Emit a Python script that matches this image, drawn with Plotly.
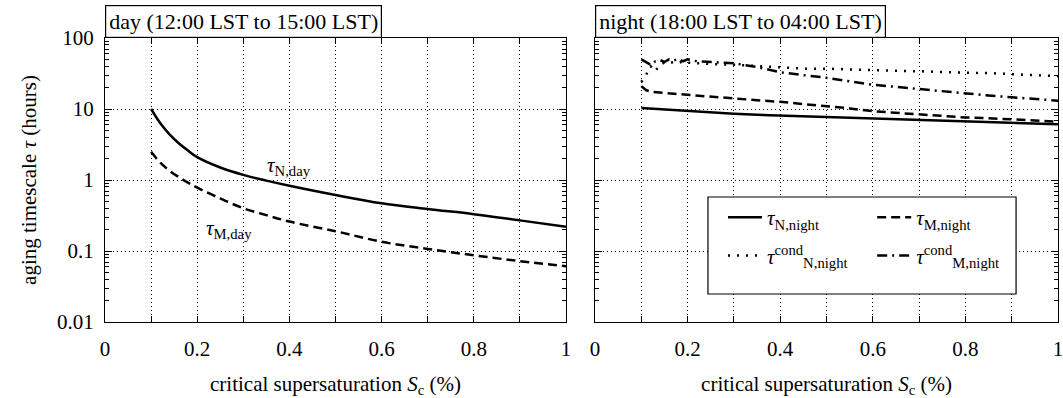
import plotly.graph_objects as go
from plotly.subplots import make_subplots

# ---- data ----
x_day = [0.10, 0.12, 0.14, 0.16, 0.18, 0.20, 0.25, 0.30, 0.35, 0.40, 0.50, 0.60, 0.70, 0.80, 0.90, 1.00]
tau_N_day = [10.0, 6.3, 4.4, 3.3, 2.6, 2.1, 1.5, 1.18, 0.98, 0.83, 0.615, 0.47, 0.39, 0.33, 0.27, 0.22]
tau_M_day = [2.5, 1.75, 1.35, 1.1, 0.92, 0.78, 0.55, 0.40, 0.32, 0.26, 0.19, 0.135, 0.107, 0.087, 0.072, 0.061]

x_night = [0.10, 0.11, 0.12, 0.13, 0.14, 0.15, 0.16, 0.17, 0.18, 0.19, 0.20, 0.22, 0.25, 0.30,
           0.35, 0.40, 0.45, 0.50, 0.55, 0.60, 0.65, 0.70, 0.75, 0.80, 0.85, 0.90, 0.95, 1.00]
tau_N_night = [10.3, 10.2, 10.1, 10.0, 10.0, 9.9, 9.8, 9.7, 9.6, 9.5, 9.4, 9.2, 8.9, 8.6,
               8.3, 8.1, 7.9, 7.7, 7.5, 7.3, 7.1, 7.0, 6.8, 6.6, 6.5, 6.4, 6.25, 6.1]
tau_M_night = [21.0, 18.5, 17.5, 17.2, 17.0, 16.8, 16.6, 16.4, 16.2, 16.0, 15.7, 15.3, 14.8, 14.1,
               13.3, 12.6, 11.8, 11.1, 10.2, 9.3, 8.8, 8.3, 7.9, 7.6, 7.4, 7.2, 6.9, 6.6]
tau_N_cond_night = [24, 30, 40, 34, 42, 45, 44, 46, 44, 47, 45, 44, 43, 42,
                    40, 38, 37, 37, 36, 35, 34.5, 34, 33, 32.5, 32, 31, 30, 29]
tau_M_cond_night = [50, 46, 42, 47, 49, 46, 50, 48, 51, 47, 50, 47, 46, 44,
                    39, 33, 30, 27.5, 24.5, 22, 20.5, 19, 17.8, 16.6, 15.5, 14.6, 13.8, 13.1]

x_tickvals = [0, 0.1, 0.2, 0.3, 0.4, 0.5, 0.6, 0.7, 0.8, 0.9, 1.0]
x_ticktext = ["0", "", "0.2", "", "0.4", "", "0.6", "", "0.8", "", "1"]
y_tickvals = [0.01, 0.1, 1, 10, 100]
y_ticktext = ["0.01", "0.1", "1", "10", "100"]

FONT = "Liberation Serif, DejaVu Serif, serif"
LW = 2.5
FS = 21

fig = make_subplots(rows=1, cols=2, horizontal_spacing=0.03)

fig.add_trace(go.Scatter(x=x_day, y=tau_N_day, mode="lines", line=dict(color="black", width=LW, shape="spline"),
                         showlegend=False), row=1, col=1)
fig.add_trace(go.Scatter(x=x_day, y=tau_M_day, mode="lines", line=dict(color="black", width=LW, dash="9px,5px", shape="spline"),
                         showlegend=False), row=1, col=1)

fig.add_trace(go.Scatter(x=x_night, y=tau_N_night, mode="lines", name="<i>τ</i><sub>N,night</sub>",
                         legend="legend", legendgroup="a",
                         line=dict(color="black", width=LW)), row=1, col=2)
fig.add_trace(go.Scatter(x=x_night, y=tau_M_night, mode="lines", name="<i>τ</i><sub>M,night</sub>",
                         legend="legend2", legendgroup="b",
                         line=dict(color="black", width=LW, dash="9px,5px")), row=1, col=2)
fig.add_trace(go.Scatter(x=x_night, y=tau_N_cond_night, mode="lines", name="<i>τ</i><sup>cond</sup><sub>N,night</sub>",
                         legend="legend", legendgroup="c",
                         line=dict(color="black", width=LW, dash="2px,7px")), row=1, col=2)
fig.add_trace(go.Scatter(x=x_night, y=tau_M_cond_night, mode="lines", name="<i>τ</i><sup>cond</sup><sub>M,night</sub>",
                         legend="legend2", legendgroup="d",
                         line=dict(color="black", width=LW, dash="10px,5px,2px,5px")), row=1, col=2)

axis_common = dict(showline=True, linecolor="black", linewidth=1.2, mirror="ticks",
                   ticks="inside", tickcolor="black", showgrid=True, gridcolor="black",
                   griddash="1px,3px", gridwidth=1, zeroline=False, automargin=False,
                   tickfont=dict(family=FONT, size=FS, color="black"))

for c in (1, 2):
    fig.update_xaxes(range=[0, 1], tickvals=x_tickvals, ticktext=x_ticktext, ticklen=6,
                     ticklabelstandoff=8, ticklabeloverflow="allow",
                     title=dict(text="critical supersaturation <i>S</i><sub>c</sub> (%)",
                                font=dict(family=FONT, size=FS, color="black"), standoff=16),
                     row=1, col=c, **axis_common)
    fig.update_yaxes(type="log", range=[-2, 2], tickvals=y_tickvals,
                     ticktext=(y_ticktext if c == 1 else [""] * 5), ticklen=7,
                     ticklabelstandoff=6,
                     minor=dict(ticks="inside", ticklen=4, tickcolor="black", showgrid=False,
                                tickvals=[k * 10 ** e for e in (-2, -1, 0, 1) for k in range(2, 10)]),
                     row=1, col=c, **axis_common)

fig.update_yaxes(title=dict(text="aging timescale <i>τ</i> (hours)",
                            font=dict(family=FONT, size=FS, color="black"), standoff=14), row=1, col=1)

legend_common = dict(orientation="v", xanchor="left", yanchor="top",
                     bgcolor="rgba(0,0,0,0)", borderwidth=0,
                     font=dict(family=FONT, size=FS, color="black"), itemwidth=34,
                     tracegroupgap=8)

fig.update_layout(
    width=1063, height=398,
    margin=dict(l=105, r=5, t=38, b=76, autoexpand=False),
    paper_bgcolor="white", plot_bgcolor="white",
    font=dict(family=FONT, color="black"),
    showlegend=True,
    legend=dict(x=0.6485, y=0.44, **legend_common),
    legend2=dict(x=0.805, y=0.44, **legend_common),
)
fig.update_xaxes(domain=[0.0, 0.4837], row=1, col=1)
fig.update_xaxes(domain=[0.5142, 1.0], row=1, col=2)

# legend frame (white box covering the grid)
fig.add_shape(type="rect", xref="paper", yref="paper", x0=0.6327, x1=0.956, y0=0.0986, y1=0.4401,
              fillcolor="white", line=dict(color="black", width=1.2), layer="above")

# panel title boxes
fig.add_annotation(text="day (12:00 LST to 15:00 LST)", xref="x domain", yref="y domain", x=0, y=1.0,
                   xanchor="left", yanchor="bottom", showarrow=False, bordercolor="black", borderwidth=1.2,
                   borderpad=3, bgcolor="white", font=dict(family=FONT, size=22, color="black"))
fig.add_annotation(text="night (18:00 LST to 04:00 LST)", xref="x2 domain", yref="y2 domain", x=0, y=1.0,
                   xanchor="left", yanchor="bottom", showarrow=False, bordercolor="black", borderwidth=1.2,
                   borderpad=3, bgcolor="white", font=dict(family=FONT, size=22, color="black"))

# curve labels
fig.add_annotation(text="<i>τ</i><sub>N,day</sub>", x=0.40, y=0.2, xref="x", yref="y", showarrow=False,
                   font=dict(family=FONT, size=FS, color="black"))
fig.add_annotation(text="<i>τ</i><sub>M,day</sub>", x=0.27, y=-0.69, xref="x", yref="y", showarrow=False,
                   font=dict(family=FONT, size=FS, color="black"))

fig.write_html("out.html", config={"displayModeBar": False},
               post_script="document.body.style.margin='0';")
